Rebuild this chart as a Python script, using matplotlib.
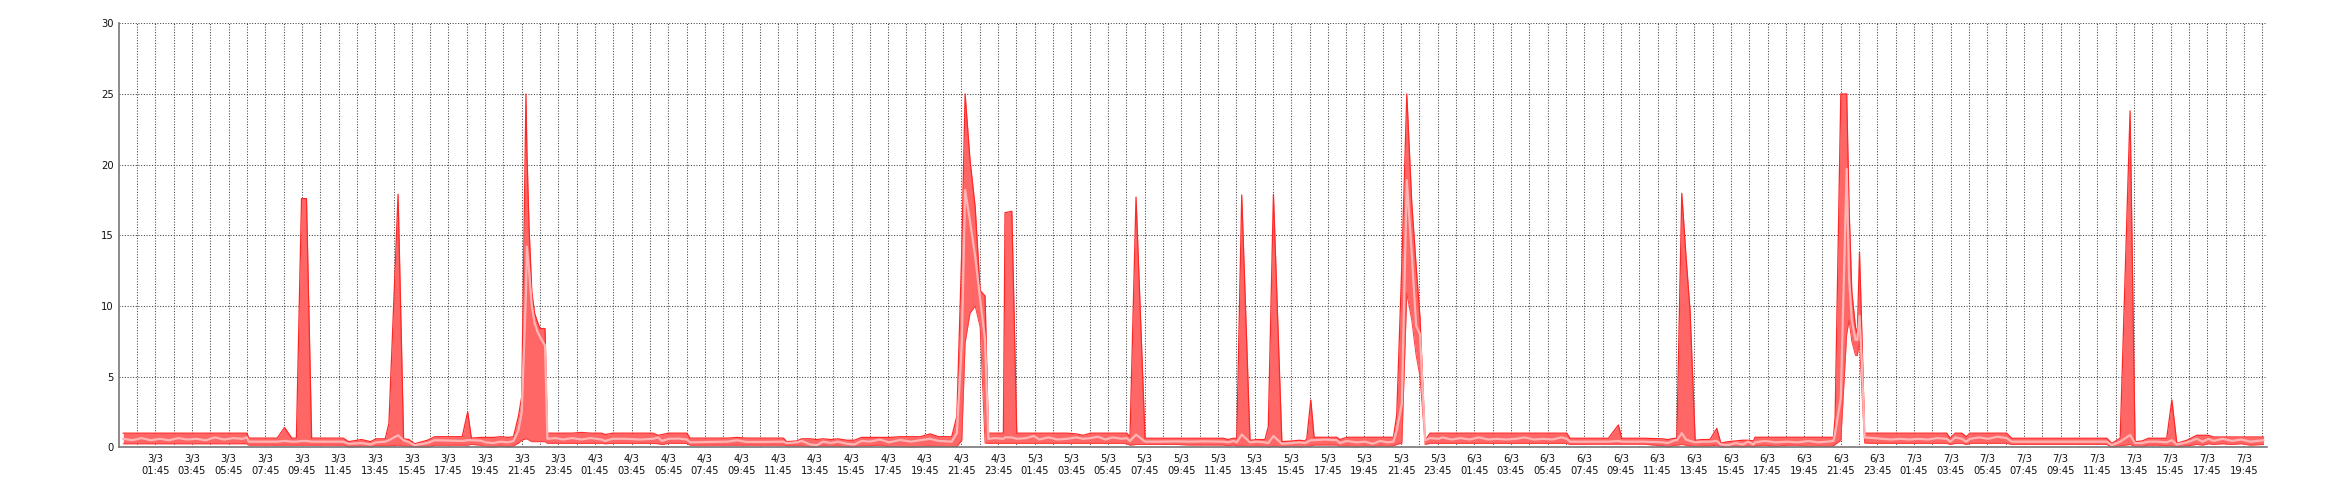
import matplotlib
matplotlib.use("Agg")
import matplotlib.pyplot as plt

# hours since 3/3 00:00, with the min / average / max of each sample
hours = [
    # 3/3
    0.0, 0.5, 1.0, 1.5, 2.0, 2.5, 3.0, 3.5, 4.0, 4.5, 5.0, 5.5, 6.0, 6.5, 6.75,
    6.85, 8.4, 8.8, 9.2, 9.45, 9.73, 10.0, 10.28, 12.0, 12.3, 13.0, 13.5, 13.8,
    14.3, 14.5, 15.0, 15.3, 15.6, 15.9, 16.6, 17.0, 18.5, 18.8, 19.0, 19.5,
    19.8, 20.2, 20.6, 21.0, 21.3, 21.57, 21.75, 21.98, 22.03, 22.15, 22.3,
    22.45, 22.6, 22.75, 23.02, 23.15, 23.6,
    # 4/3
    24.0, 24.5, 25.0, 25.5, 26.1, 26.3, 26.7, 27.5, 28.2, 28.9, 29.2, 29.4,
    29.75, 30.3, 30.76, 30.94, 32.0, 33.0, 33.5, 34.0, 35.0, 36.03, 36.21,
    36.76, 37.03, 37.5, 37.85, 38.2, 38.6, 39.0, 39.5, 39.9, 40.3, 40.76,
    41.3, 41.8, 42.4, 43.0, 43.5, 44.04, 44.5, 45.22, 45.5, 45.77, 45.95,
    46.22, 46.5, 46.77, 47.04, 47.22, 47.6,
    # 5/3
    48.04, 48.13, 48.5, 48.77, 49.3, 49.7, 50.0, 50.5, 51.0, 51.5, 52.0,
    52.4, 52.8, 53.2, 53.6, 54.0, 54.5, 54.77, 54.95, 55.28, 55.77, 56.5,
    57.5, 58.2, 59.0, 60.05, 60.3, 60.6, 60.78, 61.05, 61.5, 61.9, 62.32,
    62.5, 62.78, 63.24, 63.8, 64.2, 64.5, 64.6, 64.82, 65.0, 65.6, 66.24,
    66.4, 66.8, 67.3, 67.8, 68.2, 68.6, 69.0, 69.33, 69.51, 69.79, 70.06,
    70.33, 70.57, 70.78, 71.06, 71.33, 71.8,
    # 6/3
    72.0, 72.5, 73.0, 73.5, 74.0, 74.5, 75.0, 75.5, 76.0, 76.5, 77.0, 77.5,
    78.0, 78.5, 78.79, 78.97, 80.0, 81.06, 81.61, 81.79, 83.0, 84.0, 84.3,
    84.7, 84.8, 85.07, 85.3, 85.52, 85.8, 86.2, 86.61, 86.98, 87.2, 87.6,
    88.0, 88.4, 88.7, 88.98, 89.07, 89.6, 90.2, 90.8, 91.4, 92.0, 92.5, 93.0,
    93.35, 93.44, 93.75, 94.07, 94.2, 94.35, 94.55, 94.65, 94.77, 94.9,
    95.05, 95.5,
    # 7/3
    96.0, 96.5, 97.0, 97.5, 98.0, 98.5, 99.0, 99.53, 99.72, 99.99, 100.35,
    100.6, 100.8, 101.3, 101.8, 102.3, 102.8, 103.08, 104.0, 105.0, 106.0,
    107.0, 108.0, 108.27, 108.54, 109.0, 109.54, 109.81, 110.2, 110.54,
    111.0, 111.54, 111.82, 112.09, 112.64, 113.18, 113.5, 113.81, 114.09,
    114.6, 115.1, 115.6, 116.1, 116.82,
]

low = [
    # 3/3
    0.25, 0.25, 0.25, 0.25, 0.25, 0.25, 0.25, 0.25, 0.25, 0.25, 0.25, 0.25, 0.25, 0.25, 0.25,
    0.15, 0.15, 0.15, 0.15, 0.15, 0.15, 0.15, 0.15, 0.15, 0.0, 0.05, 0.0, 0.10,
    0.10, 0.10, 0.15, 0.10, 0.05, 0.0, 0.0, 0.15, 0.15, 0.15, 0.20, 0.15,
    0.0, 0.0, 0.10, 0.0, 0.10, 0.30, 0.50, 0.60, 0.60, 0.50, 0.40,
    0.40, 0.40, 0.40, 0.40, 0.28, 0.28,
    # 4/3
    0.28, 0.28, 0.28, 0.28, 0.28, 0.25, 0.28, 0.28, 0.28, 0.28, 0.25, 0.20,
    0.28, 0.28, 0.28, 0.15, 0.15, 0.15, 0.15, 0.15, 0.15, 0.15, 0.10,
    0.10, 0.10, 0.0, 0.0, 0.10, 0.05, 0.10, 0.0, 0.0, 0.10, 0.10,
    0.15, 0.05, 0.05, 0.0, 0.05, 0.10, 0.05, 0.05, 0.05, 0.50, 7.40,
    9.50, 10.0, 8.50, 0.30, 0.28, 0.28,
    # 5/3
    0.28, 0.28, 0.28, 0.28, 0.28, 0.28, 0.28, 0.28, 0.28, 0.28, 0.28,
    0.28, 0.28, 0.28, 0.28, 0.28, 0.28, 0.25, 0.15, 0.20, 0.20, 0.20,
    0.20, 0.16, 0.16, 0.16, 0.10, 0.16, 0.10, 0.10, 0.05, 0.10, 0.05,
    0.0, 0.10, 0.0, 0.05, 0.0, 0.05, 0.05, 0.10, 0.16, 0.16, 0.16,
    0.05, 0.10, 0.0, 0.10, 0.0, 0.10, 0.05, 0.10, 0.20, 0.30, 10.9,
    9.0, 6.5, 5.0, 0.20, 0.28, 0.28,
    # 6/3
    0.28, 0.28, 0.28, 0.28, 0.28, 0.28, 0.28, 0.28, 0.28, 0.28, 0.28, 0.28,
    0.28, 0.28, 0.28, 0.20, 0.22, 0.22, 0.22, 0.22, 0.22, 0.10, 0.0,
    0.15, 0.15, 0.20, 0.15, 0.10, 0.05, 0.10, 0.10, 0.15, 0.0, 0.0,
    0.05, 0.0, 0.10, 0.0, 0.10, 0.15, 0.05, 0.15, 0.15, 0.05, 0.10, 0.05,
    0.10, 0.20, 0.50, 8.0, 9.0, 7.5, 6.5, 6.5, 7.5, 4.0,
    0.30, 0.28,
    # 7/3
    0.28, 0.28, 0.28, 0.28, 0.28, 0.28, 0.28, 0.28, 0.20, 0.28, 0.28,
    0.20, 0.28, 0.28, 0.28, 0.28, 0.28, 0.20, 0.20, 0.20, 0.20,
    0.20, 0.20, 0.20, 0.0, 0.10, 0.20, 0.05, 0.05, 0.15,
    0.15, 0.10, 0.10, 0.0, 0.10, 0.20, 0.15, 0.25, 0.20,
    0.25, 0.20, 0.25, 0.15, 0.20,
]

mean = [
    # 3/3
    0.60, 0.50, 0.65, 0.50, 0.60, 0.50, 0.65, 0.55, 0.60, 0.50, 0.70, 0.55, 0.65, 0.60, 0.70,
    0.40, 0.40, 0.45, 0.40, 0.40, 0.45, 0.45, 0.40, 0.40, 0.25, 0.30, 0.20, 0.35,
    0.40, 0.50, 0.85, 0.50, 0.35, 0.15, 0.30, 0.50, 0.45, 0.50, 0.50, 0.47,
    0.35, 0.30, 0.40, 0.35, 0.45, 1.20, 2.50, 11.0, 14.2, 12.5, 10.0,
    8.80, 8.20, 7.80, 7.20, 0.60, 0.65,
    # 4/3
    0.55, 0.65, 0.55, 0.65, 0.55, 0.45, 0.60, 0.60, 0.55, 0.60, 0.70, 0.45,
    0.60, 0.62, 0.55, 0.35, 0.38, 0.40, 0.50, 0.38, 0.38, 0.40, 0.30,
    0.35, 0.45, 0.20, 0.15, 0.40, 0.30, 0.40, 0.25, 0.20, 0.45, 0.40,
    0.55, 0.35, 0.52, 0.40, 0.50, 0.60, 0.45, 0.40, 1.00, 7.40, 18.2,
    16.0, 13.5, 10.5, 7.60, 0.60, 0.65,
    # 5/3
    0.60, 0.70, 0.70, 0.60, 0.65, 0.80, 0.55, 0.70, 0.55, 0.60, 0.70,
    0.60, 0.65, 0.75, 0.55, 0.70, 0.60, 0.65, 0.45, 0.90, 0.40, 0.40,
    0.42, 0.40, 0.42, 0.40, 0.35, 0.45, 0.35, 0.90, 0.35, 0.40, 0.35,
    0.30, 0.80, 0.25, 0.30, 0.35, 0.30, 0.35, 0.50, 0.50, 0.55, 0.50,
    0.30, 0.45, 0.35, 0.40, 0.25, 0.45, 0.35, 0.40, 1.20, 3.10, 18.9,
    13.7, 8.60, 8.00, 0.50, 0.65, 0.60,
    # 6/3
    0.70, 0.55, 0.65, 0.55, 0.70, 0.55, 0.60, 0.55, 0.60, 0.70, 0.55, 0.60,
    0.55, 0.70, 0.60, 0.40, 0.40, 0.40, 0.45, 0.40, 0.40, 0.35, 0.30,
    0.50, 0.50, 1.00, 0.55, 0.45, 0.35, 0.40, 0.40, 0.45, 0.20, 0.15,
    0.30, 0.20, 0.40, 0.20, 0.35, 0.45, 0.35, 0.40, 0.35, 0.45, 0.35, 0.40,
    0.45, 1.00, 3.50, 19.7, 12.0, 9.00, 7.60, 7.60, 9.30, 6.00,
    0.70, 0.65,
    # 7/3
    0.60, 0.55, 0.60, 0.55, 0.60, 0.55, 0.65, 0.60, 0.40, 0.70, 0.60,
    0.40, 0.60, 0.70, 0.60, 0.75, 0.65, 0.40, 0.40, 0.40, 0.40,
    0.40, 0.40, 0.40, 0.15, 0.40, 0.87, 0.30, 0.30, 0.40,
    0.40, 0.35, 0.50, 0.20, 0.35, 0.60, 0.40, 0.60, 0.45,
    0.60, 0.45, 0.55, 0.40, 0.50,
]

high = [
    # 3/3
    1.0, 1.0, 1.0, 1.0, 1.0, 1.0, 1.0, 1.0, 1.0, 1.0, 1.0, 1.0, 1.0, 1.0, 1.0,
    0.65, 0.65, 1.40, 0.65, 0.65, 17.6, 17.6, 0.65, 0.65, 0.40, 0.55, 0.40, 0.60,
    0.60, 1.70, 17.9, 0.60, 0.55, 0.25, 0.50, 0.75, 0.75, 2.50, 0.65, 0.70,
    0.70, 0.70, 0.75, 0.70, 0.75, 2.20, 3.60, 25.0, 21.0, 15.5, 11.0,
    9.50, 8.90, 8.40, 8.40, 1.00, 1.00,
    # 4/3
    1.0, 1.0, 1.05, 1.0, 1.0, 0.90, 1.0, 1.0, 1.0, 1.0, 0.85, 0.90,
    1.0, 1.0, 1.0, 0.65, 0.65, 0.65, 0.70, 0.65, 0.65, 0.65, 0.40,
    0.45, 0.60, 0.60, 0.55, 0.60, 0.55, 0.60, 0.50, 0.50, 0.70, 0.70,
    0.70, 0.70, 0.75, 0.75, 0.75, 0.95, 0.75, 0.75, 2.20, 14.0, 25.0,
    20.3, 17.0, 11.1, 10.7, 1.0, 1.0,
    # 5/3
    1.0, 16.6, 16.7, 1.0, 1.0, 1.0, 1.0, 1.0, 1.0, 1.0, 0.95,
    0.85, 1.0, 1.0, 1.0, 1.0, 1.0, 1.0, 0.75, 17.7, 0.64, 0.64,
    0.64, 0.64, 0.64, 0.64, 0.55, 0.64, 0.64, 17.85, 0.50, 0.55, 0.55,
    1.46, 17.9, 0.40, 0.45, 0.50, 0.45, 0.60, 3.35, 0.71, 0.71, 0.71,
    0.55, 0.71, 0.71, 0.71, 0.71, 0.71, 0.71, 0.71, 2.28, 13.0, 25.0,
    17.3, 12.8, 9.20, 0.50, 1.0, 1.0,
    # 6/3
    1.0, 1.0, 1.0, 1.0, 1.0, 1.0, 1.0, 1.0, 1.0, 1.0, 1.0, 1.0,
    1.0, 1.0, 1.0, 0.64, 0.64, 0.64, 1.58, 0.64, 0.64, 0.60, 0.55,
    0.64, 0.64, 17.97, 13.5, 9.70, 0.50, 0.55, 0.55, 1.34, 0.30, 0.40,
    0.45, 0.50, 0.50, 0.45, 0.71, 0.71, 0.71, 0.71, 0.71, 0.71, 0.71, 0.71,
    0.71, 2.17, 25.0, 25.0, 17.0, 11.0, 8.50, 8.00, 13.8, 8.00,
    1.0, 1.0,
    # 7/3
    1.0, 1.0, 1.0, 1.0, 1.0, 1.0, 1.0, 1.0, 0.64, 1.0, 1.0,
    0.75, 1.0, 1.0, 1.0, 1.0, 1.0, 0.64, 0.64, 0.64, 0.64,
    0.64, 0.64, 0.64, 0.28, 0.64, 23.8, 0.40, 0.45, 0.64,
    0.64, 0.64, 3.35, 0.28, 0.50, 0.85, 0.85, 0.85, 0.73,
    0.73, 0.73, 0.73, 0.73, 0.73,
]

days = [3, 4, 5, 6, 7]
label_hours = list(range(1, 117, 2))  # tick every two hours at hh:45


def plot_band():
    fig = plt.figure(figsize=(23.4, 5), dpi=100)
    ax = fig.add_axes([0.051, 0.1054, 0.9177, 0.848])

    # min-max band, its edges, and the average line on top
    ax.fill_between(hours, low, high, color="#ff6666", lw=0, zorder=3)
    ax.plot(hours, high, color="#ff2828", lw=0.9, zorder=4)
    ax.plot(hours, low, color="#ff3c3c", lw=0.7, zorder=4)
    ax.plot(hours, mean, color="#ffb4b4", lw=1.6, zorder=5)

    ax.set_xlim(-0.215, 117.0)
    ax.set_ylim(0, 30)

    # dotted grid: every hour and every 5 units, 1px dots
    grid_kw = dict(color="#444444", lw=0.75, ls=(0, (1, 1.6)), zorder=1)
    for k in range(117):
        ax.axvline(k + 0.75, **grid_kw)
    for v in range(5, 31, 5):
        ax.axhline(v, **grid_kw)

    ax.set_yticks(range(0, 31, 5))
    ticks = [h + 0.75 for h in label_hours]
    labels = ["%d/3\n%02d:45" % (days[h // 24], h % 24) for h in label_hours]
    ax.set_xticks(ticks)
    ax.set_xticklabels(labels)
    ax.tick_params(length=0, labelsize=7.2, colors="#111111")
    ax.tick_params(axis="x", pad=5)
    ax.tick_params(axis="y", pad=4)

    for side in ("top", "right"):
        ax.spines[side].set_visible(False)
    for side in ("left", "bottom"):
        ax.spines[side].set_color("#777777")
        ax.spines[side].set_linewidth(1.2)
        ax.spines[side].set_zorder(6)

    fig.savefig("out.png", dpi=100, facecolor="white")
    plt.close(fig)


if __name__ == "__main__":
    plot_band()
